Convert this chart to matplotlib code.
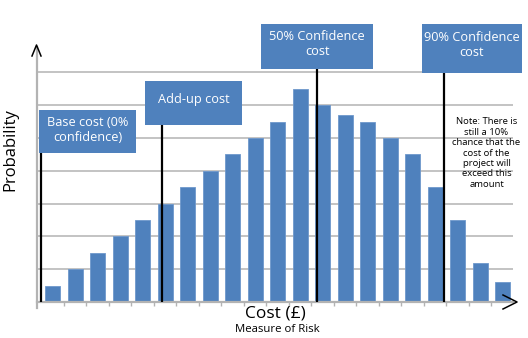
import matplotlib
matplotlib.use("Agg")
import matplotlib.pyplot as plt
from matplotlib.patches import Rectangle
from matplotlib.lines import Line2D

plt.rcParams['font.family'] = ['Open Sans', 'DejaVu Sans']

# ---- data ----
bin_index = list(range(21))
probability = [0.5, 1.0, 1.5, 2.0, 2.5, 3.0, 3.5, 4.0, 4.5, 5.0,
               5.5, 6.5, 6.0, 5.7, 5.5, 5.0, 4.5, 3.5, 2.5, 1.2, 0.6]
marker_labels = ["Base cost (0%\nconfidence)", "Add-up cost",
                 "50% Confidence\ncost", "90% Confidence\ncost"]
marker_positions = [-0.5, 4.85, 11.75, 17.4]
note_text = ("Note: There is\nstill a 10%\nchance that the\ncost of the\n"
             "project will\nexceed this\namount")
x_label = "Cost (£)"
x_sublabel = "Measure of Risk"
y_label = "Probability"

W, H = 528, 338
BLUE = "#4F81BD"
GRID = "#B3B3B3"

fig = plt.figure(figsize=(W / 100, H / 100), dpi=100)
fig.patch.set_facecolor("white")


def fx(px):
    return px / W


def fy(py):
    return 1 - py / H


# axes frame in pixels
ax_l, ax_r, ax_t, ax_b = 37, 513, 45, 302
ax = fig.add_axes([fx(ax_l), fy(ax_b), (ax_r - ax_l) / W, (ax_b - ax_t) / H])
unit = 32.8  # pixels per probability unit
ax.set_ylim(0, (ax_b - ax_t) / unit)
ax.set_xlim(-0.698, 20.46)
for s in ax.spines.values():
    s.set_visible(False)
ax.set_facecolor("none")

for g in range(1, 8):
    ax.axhline(g, color=GRID, lw=1.1, zorder=0)
ax.axhline(0, color=GRID, lw=1.6, zorder=3, clip_on=False)

ax.bar(bin_index, probability, width=0.67, color=BLUE,
       edgecolor="#6E98CC", linewidth=0.6, zorder=2)

ax.set_xticks([i + 0.5 for i in range(20)])
ax.set_xticklabels([])
ax.set_yticks([])
ax.tick_params(axis="x", length=3.2, width=1.0, color=GRID, direction="out")

# y axis line and arrows
fig.add_artist(Line2D([fx(36.5), fx(36.5)], [fy(47), fy(308)], color=GRID, lw=1.6))
fig.add_artist(Line2D([fx(32), fx(36.5), fx(41)], [fy(56), fy(45), fy(56)],
                      color="black", lw=1.1))
fig.add_artist(Line2D([fx(503), fx(517), fx(503)], [fy(295), fy(302), fy(309)],
                      color="black", lw=1.1))

# annotation boxes (pixel boxes: x0, y0, x1, y1)
boxes = [(39, 110, 136, 153), (145, 81, 242, 125),
         (261, 24, 373, 69), (422, 24, 522, 73)]
text_dy = [-1.5, -3, -2.5, -3.5]
for lab, xpos, (x0, y0, x1, y1), dy in zip(marker_labels, marker_positions, boxes, text_dy):
    fig.add_artist(Rectangle((fx(x0), fy(y1)), (x1 - x0) / W, (y1 - y0) / H,
                             facecolor=BLUE, edgecolor="none", zorder=5))
    fig.text(fx((x0 + x1) / 2), fy((y0 + y1) / 2 + dy), lab, color="white",
             ha="center", va="center", fontsize=9.2, linespacing=1.25, zorder=6)
    top = (ax_b - y1) / unit
    ax.vlines(xpos, 0, top, color="black", lw=1.6, zorder=4, clip_on=False)

fig.text(fx(486.5), fy(153), note_text, ha="center", va="center",
         fontsize=6.8, linespacing=1.2, color="black")

fig.text(fx(10), fy(150), y_label, rotation=90, ha="center", va="center",
         fontsize=12)
fig.text(fx(275), fy(314), x_label, ha="center", va="center", fontsize=12.5)
fig.text(fx(277), fy(329), x_sublabel, ha="center", va="center", fontsize=8.2)

fig.savefig("out.png", dpi=100, facecolor="white")
